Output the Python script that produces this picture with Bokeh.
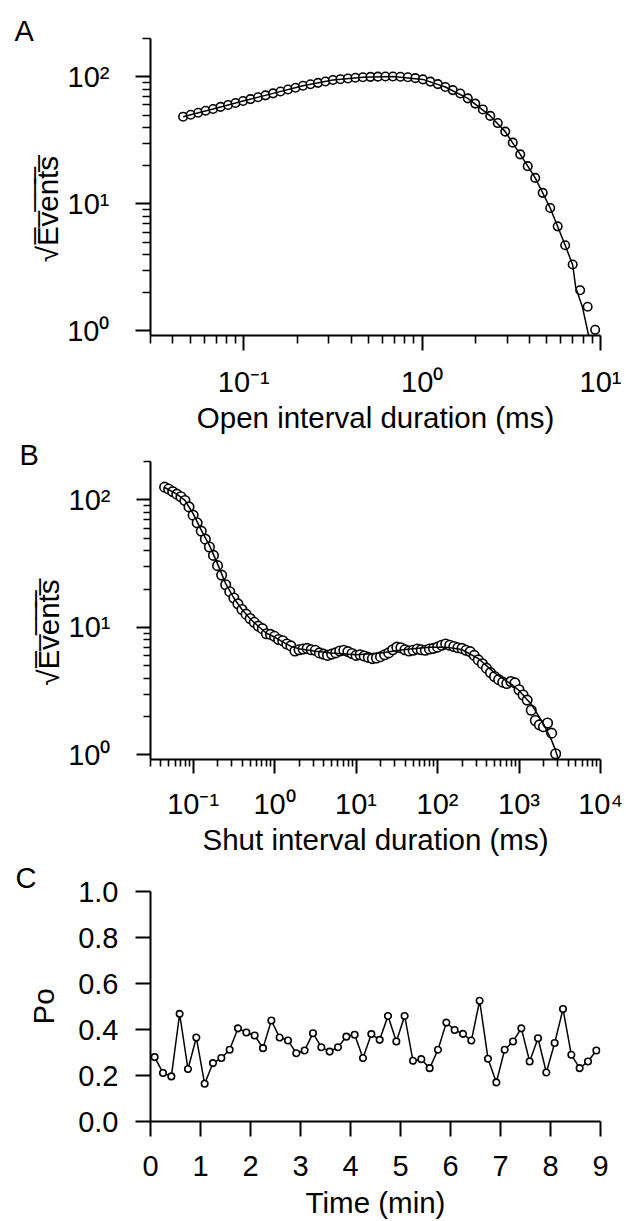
import math
from bokeh.plotting import figure
from bokeh.layouts import column
from bokeh.models import (FixedTicker, CustomJSTickFormatter, Range1d, PrintfTickFormatter)
from bokeh.embed import file_html
from bokeh.resources import INLINE

FONT = "Liberation Sans"

# ---------------- Panel A : open intervals ----------------
open_ms = [0.0457, 0.0504, 0.0555, 0.0611, 0.0673, 0.0741, 0.0817, 0.0899, 0.0991, 0.1091,
           0.1202, 0.1324, 0.1459, 0.1607, 0.1770, 0.1950, 0.2148, 0.2366, 0.2606, 0.2871,
           0.3162, 0.3483, 0.3837, 0.4227, 0.4656, 0.5129, 0.5649, 0.6223, 0.6855, 0.7551,
           0.8318, 0.9162, 1.0093, 1.1117, 1.2246, 1.3490, 1.4859, 1.6368, 1.8030, 1.9861,
           2.1878, 2.4099, 2.6546, 2.9242, 3.2211, 3.5481, 3.9084, 4.3053, 4.7424, 5.2240,
           5.7544, 6.3387, 6.9823, 7.6913, 8.4723, 9.3325]
open_sqrt_events = [48.5, 50.2, 52.1, 54.0, 55.8, 57.9, 60.0, 62.1, 64.4, 66.7,
                    69.0, 71.4, 74.0, 76.6, 79.3, 82.0, 84.9, 87.3, 89.5, 91.8,
                    94.2, 95.7, 97.0, 98.2, 99.1, 99.8, 100.2, 100.5, 100.5, 100.0,
                    99.1, 97.5, 95.3, 91.6, 87.5, 83.0, 78.5, 73.8, 67.6, 61.5,
                    55.3, 49.2, 43.2, 37.0, 30.3, 24.5, 19.8, 16.0, 12.2, 9.27,
                    6.65, 4.72, 3.33, 2.09, 1.55, 1.02]
open_fit_ms = [0.0457, 0.0673, 0.0991, 0.1459, 0.2148, 0.3162, 0.4656, 0.6855, 1.0093,
               1.3490, 1.8030, 2.4099, 2.9242, 3.5481, 4.3053, 5.2240, 6.3387, 6.9823,
               7.26, 7.91, 8.58, 9.0]
open_fit_sqrt = [48.5, 55.8, 64.4, 74.0, 84.9, 94.2, 99.1, 100.5, 95.3,
                 83.0, 67.6, 49.2, 37.0, 24.5, 16.0, 9.27, 4.72, 3.30,
                 2.21, 1.55, 0.92, 0.6]

# ---------------- Panel B : shut intervals ----------------
shut_ms = [0.0447, 0.0501, 0.0562, 0.0631, 0.0708, 0.0794, 0.0891,
           0.1, 0.1122, 0.1259, 0.1413, 0.1585, 0.1778, 0.1995, 0.2239, 0.2512, 0.2818,
           0.3162, 0.3548, 0.3981, 0.4467, 0.5012, 0.5623, 0.631, 0.7079, 0.7943, 0.8913,
           1.0, 1.122, 1.259, 1.413, 1.585, 1.778, 1.995, 2.239, 2.512, 2.818,
           3.162, 3.548, 3.981, 4.467, 5.012, 5.623, 6.31, 7.079, 7.943, 8.913,
           10.0, 11.22, 12.59, 14.13, 15.85, 17.78, 19.95, 22.39, 25.12, 28.18,
           31.62, 35.48, 39.81, 44.67, 50.12, 56.23, 63.1, 70.79, 79.43, 89.13,
           100.0, 112.2, 125.9, 141.3, 158.5, 177.8, 199.5, 223.9, 251.2, 281.8,
           316.2, 354.8, 398.1, 446.7, 501.2, 562.3, 631.0, 707.9, 794.3, 891.3,
           1000.0, 1122.0, 1259.0, 1413.0, 1585.0, 1778.0, 1995.0, 2239.0, 2512.0, 2818.0]
shut_sqrt_events = [125.9, 121.6, 116.1, 110.9, 105.9, 98.9, 88.1,
                    75.9, 66.1, 56.9, 49.2, 42.7, 36.7, 30.5, 25.7, 21.6, 19.05,
                    17.0, 15.3, 13.8, 12.7, 11.75, 10.96, 10.23, 9.77, 8.91, 8.81,
                    8.51, 8.04, 7.85, 7.41, 7.16, 6.53, 6.68, 6.76, 6.84, 6.68,
                    6.61, 6.31, 6.17, 6.03, 6.17, 6.31, 6.53, 6.61, 6.46, 6.24,
                    6.03, 6.10, 5.96, 5.82, 5.69, 5.75, 5.89, 6.10, 6.31, 6.68,
                    7.00, 6.92, 6.68, 6.53, 6.61, 6.76, 6.68, 6.61, 6.76, 6.84,
                    7.00, 7.24, 7.41, 7.24, 7.08, 6.92, 6.84, 6.61, 6.46, 6.03,
                    5.56, 5.19, 4.79, 4.42, 4.12, 3.89, 3.72, 3.63, 3.76, 3.67,
                    3.24, 2.95, 2.69, 2.24, 1.86, 1.72, 1.66, 1.78, 1.48, 1.02]
shut_fit_ms = [0.0447, 0.0631, 0.0794, 0.1, 0.1259, 0.1585, 0.1995, 0.2512, 0.3162,
               0.3981, 0.5012, 0.631, 0.7943, 1.0, 1.259, 1.585, 1.995, 3.162, 5.012,
               10.0, 19.95, 39.81, 79.43, 125.9, 199.5, 316.2, 501.2, 794.3, 1000.0,
               1413.0, 1995.0, 2512.0, 2818.0, 3162.0]
shut_fit_sqrt = [125, 111, 99, 78, 58, 44, 31.5, 22, 17,
                 13.8, 11.7, 10.2, 9.0, 8.4, 7.7, 7.1, 6.8, 6.5, 6.3,
                 6.1, 6.3, 6.7, 7.0, 7.0, 6.7, 5.7, 4.4, 3.6, 3.2,
                 2.5, 1.75, 1.3, 1.08, 0.85]

# ---------------- Panel C : Po vs time ----------------
time_min = [0.083, 0.25, 0.417, 0.583, 0.75, 0.917, 1.083, 1.25, 1.417, 1.583,
            1.75, 1.917, 2.083, 2.25, 2.417, 2.583, 2.75, 2.917, 3.083, 3.25,
            3.417, 3.583, 3.75, 3.917, 4.083, 4.25, 4.417, 4.583, 4.75, 4.917,
            5.083, 5.25, 5.417, 5.583, 5.75, 5.917, 6.083, 6.25, 6.417, 6.583,
            6.75, 6.917, 7.083, 7.25, 7.417, 7.583, 7.75, 7.917, 8.083, 8.25,
            8.417, 8.583, 8.75, 8.917]
po = [0.280, 0.211, 0.196, 0.468, 0.228, 0.365, 0.164, 0.254, 0.276, 0.312,
      0.405, 0.387, 0.374, 0.319, 0.439, 0.365, 0.352, 0.297, 0.309, 0.384,
      0.323, 0.304, 0.323, 0.369, 0.377, 0.276, 0.380, 0.355, 0.459, 0.348,
      0.459, 0.264, 0.271, 0.232, 0.312, 0.430, 0.398, 0.381, 0.352, 0.525,
      0.273, 0.170, 0.312, 0.348, 0.405, 0.261, 0.362, 0.213, 0.341, 0.489,
      0.290, 0.232, 0.261, 0.309]

# ---------------- ticks & labels ----------------
log_tick_values = [0.1, 1, 10, 100, 1000, 10000]
log_tick_labels = ["10\u207b\u00b9", "10\u2070", "10\u00b9", "10\u00b2", "10\u00b3", "10\u2074"]
po_ticks = [0.0, 0.2, 0.4, 0.6, 0.8, 1.0]
time_ticks = [0, 1, 2, 3, 4, 5, 6, 7, 8, 9]
sqrt_events_label = "\u221aE\u0305v\u0305e\u0305n\u0305t\u0305s\u0305\u2003\u2002"


def minor_list(lo_exp, hi_exp):
    out = [m * 10.0 ** (lo_exp - 1) for m in range(3, 10)]
    for e in range(lo_exp, hi_exp):
        out += [m * 10.0 ** e for m in range(2, 10)]
    return out


log_fmt = CustomJSTickFormatter(args=dict(vals=log_tick_values, labs=log_tick_labels), code="""
for (let i = 0; i < vals.length; i++) {
  if (Math.abs(Math.log10(tick) - Math.log10(vals[i])) < 1e-6) { return labs[i]; }
}
return '';
""")


def style(p, letter, letter_offset, letter_standoff, tick_out=15, minor_out=7):
    p.grid.visible = False
    p.outline_line_color = None
    p.background_fill_color = "white"
    p.border_fill_color = "white"
    p.title.text = letter
    p.title.align = "left"
    p.title.offset = letter_offset
    p.title.standoff = letter_standoff
    p.title.text_font = FONT
    p.title.text_font_size = "29px"
    p.title.text_font_style = "normal"
    p.title.text_color = "black"
    for ax in (p.xaxis[0], p.yaxis[0]):
        ax.axis_line_width = 2
        ax.axis_line_color = "black"
        ax.major_tick_line_width = 2
        ax.major_tick_line_color = "black"
        ax.minor_tick_line_width = 1.6
        ax.minor_tick_line_color = "black"
        ax.major_tick_out = tick_out
        ax.major_tick_in = 0
        ax.minor_tick_out = minor_out
        ax.minor_tick_in = 0
        ax.major_label_text_font = FONT
        ax.major_label_text_font_size = "29px"
        ax.major_label_text_color = "black"
        ax.axis_label_text_font = FONT
        ax.axis_label_text_font_size = "29.5px"
        ax.axis_label_text_font_style = "normal"
        ax.axis_label_text_color = "black"


# ---------------- figure A ----------------
pA = figure(width=626, height=439, x_axis_type="log", y_axis_type="log",
            x_range=Range1d(0.03, 10), y_range=Range1d(0.92, 200),
            output_backend="svg", toolbar_location=None,
            min_border_left=148, min_border_right=24, min_border_top=38, min_border_bottom=104)
style(pA, "A", -136, -16, tick_out=15, minor_out=8)
pA.xaxis.ticker = FixedTicker(ticks=[0.1, 1, 10], minor_ticks=minor_list(-1, 1))
pA.yaxis.ticker = FixedTicker(ticks=[1, 10, 100], minor_ticks=minor_list(0, 3))
pA.xaxis.formatter = log_fmt
pA.yaxis.formatter = log_fmt
pA.xaxis.major_label_standoff = 15
pA.yaxis.major_label_standoff = 26
pA.xaxis.axis_label = "Open interval duration (ms)"
pA.xaxis.axis_label_standoff = 0
pA.yaxis.axis_label = sqrt_events_label
pA.yaxis.axis_label_standoff = 0
pA.scatter(open_ms, open_sqrt_events, marker="circle", size=8.5, fill_color="white",
           line_color="black", line_width=1.6)
pA.line(open_fit_ms, open_fit_sqrt, line_color="black", line_width=1.5)

# ---------------- figure B ----------------
pB = figure(width=626, height=422, x_axis_type="log", y_axis_type="log",
            x_range=Range1d(0.03, 10000), y_range=Range1d(0.92, 200),
            output_backend="svg", toolbar_location=None,
            min_border_left=148, min_border_right=26, min_border_top=22, min_border_bottom=102)
style(pB, "B", -131, -18, tick_out=14, minor_out=7)
pB.xaxis.ticker = FixedTicker(ticks=[0.1, 1, 10, 100, 1000, 10000], minor_ticks=minor_list(-1, 4))
pB.yaxis.ticker = FixedTicker(ticks=[1, 10, 100], minor_ticks=minor_list(0, 3))
pB.xaxis.formatter = log_fmt
pB.yaxis.formatter = log_fmt
pB.xaxis.major_label_standoff = 14
pB.yaxis.major_label_standoff = 26
pB.xaxis.axis_label = "Shut interval duration (ms)"
pB.xaxis.axis_label_standoff = 0
pB.yaxis.axis_label = sqrt_events_label
pB.yaxis.axis_label_standoff = 0
pB.scatter(shut_ms, shut_sqrt_events, marker="circle", size=9.5, fill_color="white",
           line_color="black", line_width=1.6)
pB.line(shut_fit_ms, shut_fit_sqrt, line_color="black", line_width=1.5)

# ---------------- figure C ----------------
pC = figure(width=626, height=360,
            x_range=Range1d(0, 9), y_range=Range1d(0, 1),
            output_backend="svg", toolbar_location=None,
            min_border_left=150, min_border_right=11, min_border_top=30, min_border_bottom=99)
style(pC, "C", -135, -5, tick_out=15, minor_out=0)
pC.xaxis.ticker = FixedTicker(ticks=time_ticks, minor_ticks=[])
pC.yaxis.ticker = FixedTicker(ticks=po_ticks, minor_ticks=[])
pC.yaxis.formatter = PrintfTickFormatter(format="%.1f")
pC.xaxis.major_label_standoff = 19
pC.yaxis.major_label_standoff = 17
pC.xaxis.axis_label = "Time (min)"
pC.xaxis.axis_label_standoff = 7
pC.yaxis.axis_label = "Po"
pC.yaxis.axis_label_standoff = 15
pC.line(time_min, po, line_color="black", line_width=1.5)
pC.scatter(time_min, po, marker="circle", size=6.5, fill_color="white",
           line_color="black", line_width=1.6)

layout = column(pA, pB, pC, spacing=0)
open("out.html", "w").write(file_html(layout, INLINE))
